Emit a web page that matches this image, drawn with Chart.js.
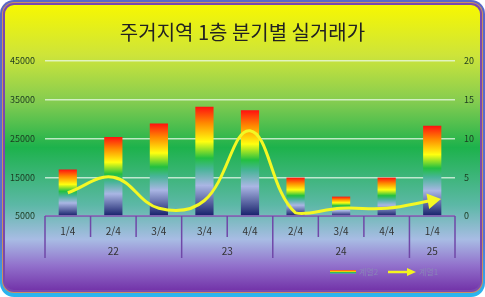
<!DOCTYPE html>
<html lang="ko">
  <head>
    <meta charset="UTF-8" />
    <script src="https://cdn.jsdelivr.net/npm/chart.js@4.4.0/dist/chart.umd.min.js"></script>
    <title>주거지역 1층 분기별 실거래가</title>
    <style>
      body { margin: 0; padding: 0; background: #fff; }
      .wrap { width: 485px; height: 297px; }
    </style>
  </head>
  <body>
    <div class="wrap"><canvas id="chart"></canvas></div>
    <script>
      const quarters = ['1/4', '2/4', '3/4', '3/4', '4/4', '2/4', '3/4', '4/4', '1/4']
      const years = [
        { label: '22', from: 0, to: 2 },
        { label: '23', from: 3, to: 4 },
        { label: '24', from: 5, to: 7 },
        { label: '25', from: 8, to: 8 },
      ]
      const series2 = [17000, 25400, 28900, 33200, 32300, 14900, 10000, 14900, 28300]
      const series1 = [3, 5, 1, 2, 11, 0.4, 1, 1, 2]
      const leftTicks = [5000, 15000, 25000, 35000, 45000]
      const rightTicks = [0, 5, 10, 15, 20]

      const FONT = '"Noto Sans CJK KR", "Noto Sans", sans-serif'

      const barGradient = (ctx, top, bottom) => {
        const g = ctx.createLinearGradient(0, top, 0, bottom)
        g.addColorStop(0, '#ff1010')
        g.addColorStop(0.15, '#ff8a00')
        g.addColorStop(0.32, '#ffff10')
        g.addColorStop(0.47, '#22c040')
        g.addColorStop(0.57, '#48b498')
        g.addColorStop(0.72, '#aab6e4')
        g.addColorStop(1, '#16206a')
        return g
      }

      const frame = {
        id: 'frame',
        beforeDraw(chart) {
          const { ctx, width, height } = chart
          ctx.save()
          ctx.fillStyle = '#fff'
          ctx.fillRect(0, 0, width, height)
          const outer = ctx.createLinearGradient(0, 0, 0, height)
          outer.addColorStop(0, '#5a66c8')
          outer.addColorStop(0.8, '#5a70d0')
          outer.addColorStop(1, '#28b8f0')
          ctx.fillStyle = outer
          ctx.beginPath()
          ctx.roundRect(0, 0, width, height, 14)
          ctx.fill()
          ctx.fillStyle = '#c89060'
          ctx.beginPath()
          ctx.roundRect(2, 2, width - 4, height - 6, 12)
          ctx.fill()
          ctx.fillStyle = '#7a48b0'
          ctx.beginPath()
          ctx.roundRect(3, 3, width - 6, height - 8, 11)
          ctx.fill()
          const bg = ctx.createLinearGradient(0, 4, 0, height - 6)
          bg.addColorStop(0, '#f8f800')
          bg.addColorStop(0.18, '#cde43a')
          bg.addColorStop(0.34, '#84cc50')
          bg.addColorStop(0.5, '#1db24c')
          bg.addColorStop(0.7, '#5cb8a6')
          bg.addColorStop(0.82, '#a8bce4')
          bg.addColorStop(0.91, '#9272cc')
          bg.addColorStop(1, '#7232a8')
          ctx.fillStyle = bg
          ctx.beginPath()
          ctx.roundRect(5, 5, width - 10, height - 12, 9)
          ctx.fill()
          ctx.restore()
        },
        afterDatasetsDraw(chart) {
          const { ctx, chartArea, scales } = chart
          const x = scales.x
          const half = (x.getPixelForValue(1) - x.getPixelForValue(0)) / 2
          const y0 = chartArea.bottom
          ctx.save()
          ctx.strokeStyle = '#7048a8'
          ctx.lineWidth = 1.5
          ctx.beginPath()
          ctx.moveTo(chartArea.left, y0)
          ctx.lineTo(chartArea.right, y0)
          for (let i = 0; i <= quarters.length; i++) {
            const px = x.getPixelForValue(i) - half
            const isGroup = years.some((g) => g.from === i || g.to + 1 === i)
            ctx.moveTo(px, y0)
            ctx.lineTo(px, y0 + (isGroup ? 42 : 21))
          }
          ctx.stroke()
          ctx.fillStyle = '#333'
          ctx.font = '10px ' + FONT
          ctx.textAlign = 'center'
          ctx.textBaseline = 'middle'
          years.forEach((g) => {
            const cx = (x.getPixelForValue(g.from) + x.getPixelForValue(g.to)) / 2
            ctx.fillText(g.label, cx, y0 + 35)
          })

          // legend
          const ly = 272
          const lg = ctx.createLinearGradient(0, ly - 2, 0, ly + 2)
          lg.addColorStop(0, '#ff3030')
          lg.addColorStop(0.35, '#ffd000')
          lg.addColorStop(0.6, '#30c050')
          lg.addColorStop(1, '#7080d0')
          ctx.fillStyle = lg
          ctx.fillRect(330, ly - 2, 26, 4)
          ctx.strokeStyle = '#f4f420'
          ctx.lineWidth = 2.5
          ctx.beginPath()
          ctx.moveTo(388, ly)
          ctx.lineTo(409, ly)
          ctx.stroke()
          ctx.fillStyle = '#f4f420'
          ctx.beginPath()
          ctx.moveTo(416, ly)
          ctx.lineTo(407, ly - 4)
          ctx.lineTo(407, ly + 4)
          ctx.closePath()
          ctx.fill()
          ctx.fillStyle = '#8a86b8'
          ctx.font = '8px ' + FONT
          ctx.textAlign = 'left'
          ctx.fillText('계열2', 359, ly)
          ctx.fillText('계열1', 419, ly)
          ctx.restore()
        },
      }

      const last = series1.length - 1
      new Chart(document.getElementById('chart'), {
        data: {
          labels: quarters,
          datasets: [
            {
              type: 'line',
              label: '계열1',
              data: series1,
              yAxisID: 'y1',
              order: 0,
              borderColor: '#f4f824',
              borderWidth: 3,
              tension: 0.4,
              fill: false,
              pointStyle: 'triangle',
              pointRadius: series1.map((v, i) => (i === last ? 6 : 0)),
              pointRotation: 80,
              pointBackgroundColor: '#f4f824',
              pointBorderColor: '#f4f824',
              clip: false,
            },
            {
              type: 'bar',
              label: '계열2',
              data: series2,
              yAxisID: 'y',
              order: 1,
              base: 5000,
              categoryPercentage: 1,
              barPercentage: 0.4,
              borderWidth: 0,
              backgroundColor: (c) => {
                const { chart } = c
                if (!chart.chartArea || c.type !== 'data') return '#ff8000'
                const ys = chart.scales.y
                return barGradient(chart.ctx, ys.getPixelForValue(c.raw), ys.getPixelForValue(5000))
              },
            },
          ],
        },
        plugins: [frame],
        options: {
          responsive: true,
          maintainAspectRatio: false,
          animation: false,
          layout: { padding: 0 },
          plugins: {
            legend: { display: false },
            tooltip: { enabled: false },
            title: {
              display: true,
              text: '주거지역 1층 분기별 실거래가',
              color: '#222',
              font: { family: FONT, size: 20, weight: 'normal' },
              padding: { top: 20, bottom: 17 },
            },
          },
          scales: {
            x: {
              offset: true,
              grid: { display: false, drawTicks: false },
              border: { display: false },
              ticks: { color: '#333', font: { family: FONT, size: 10 }, padding: 9 },
              afterFit: (s) => { s.height = 81 },
            },
            y: {
              position: 'left',
              min: 5000,
              max: 45000,
              afterBuildTicks: (s) => { s.ticks = leftTicks.map((v) => ({ value: v })) },
              grid: { color: 'rgba(235,250,235,0.75)', lineWidth: 1.5, drawTicks: false },
              border: { display: false },
              ticks: {
                color: '#1c3a20',
                font: { family: FONT, size: 9 },
                padding: 10,
                callback: (v) => String(v),
              },
              afterFit: (s) => { s.width = 45 },
            },
            y1: {
              position: 'right',
              min: 0,
              max: 20,
              afterBuildTicks: (s) => { s.ticks = rightTicks.map((v) => ({ value: v })) },
              grid: { drawOnChartArea: false, drawTicks: false },
              border: { display: false },
              ticks: { color: '#1c3a20', font: { family: FONT, size: 9 }, padding: 9 },
              afterFit: (s) => { s.width = 30 },
            },
          },
        },
      })
    </script>
  </body>
</html>
